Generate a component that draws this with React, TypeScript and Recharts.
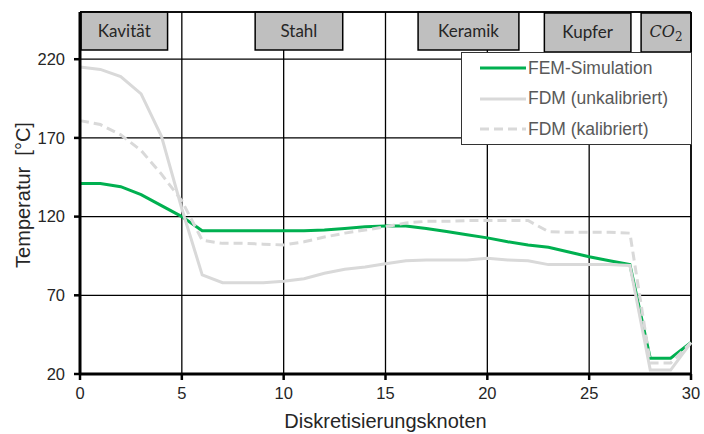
import {
  LineChart,
  Line,
  XAxis,
  YAxis,
  CartesianGrid,
  ReferenceLine,
  ReferenceArea,
  Legend
} from 'recharts';

// Knoten 0..30
const knoten = [0, 1, 2, 3, 4, 5, 6, 7, 8, 9, 10, 11, 12, 13, 14, 15, 16, 17, 18, 19, 20, 21, 22, 23, 24, 25, 26, 27, 28, 29, 30];

const femSimulation = [141, 141, 139, 134, 127, 120, 111, 111, 111, 111, 111, 111, 111.5, 112.5, 113.5, 114, 114, 112.5, 110.5, 108.5, 106.5, 104, 102, 100.5, 97.5, 94.5, 92, 89.5, 30, 30, 40];
const fdmUnkalibriert = [215, 213.5, 209, 198, 171, 125, 83, 78, 78, 78, 79, 80.5, 84, 86.5, 88, 90, 92, 92.5, 92.5, 92.5, 93.5, 92.5, 92, 89.5, 89.5, 89.5, 89.5, 89, 22.5, 22.5, 40];
const fdmKalibriert = [181, 178.5, 172, 162, 147, 130, 105, 103, 103, 102.5, 102, 104, 107, 109.5, 111.5, 113.5, 116, 117, 117, 117.5, 117.5, 117.5, 117.5, 110.5, 110, 110, 110, 109.5, 27, 27, 40];

const xTicks = [0, 5, 10, 15, 20, 25, 30];
const yTicks = [20, 70, 120, 170, 220];

// Materialbereiche oben im Diagramm
const materialNames = ['Kavität', 'Stahl', 'Keramik', 'Kupfer', 'CO2'];
const materialFrom = [0.05, 8.6, 16.6, 22.8, 27.55];
const materialTo = [4.3, 12.9, 21.55, 27.05, 30];
const materialTop = [250, 250, 250, 249.4, 249.4];
const materialBottom = [225.8, 225.8, 225.8, 224.6, 224.6];

const seriesNames = ['FEM-Simulation', 'FDM (unkalibriert)', 'FDM (kalibriert)'];
const seriesKeys = ['fem', 'unkal', 'kal'];
const seriesColors = ['#00B050', '#D9D9D9', '#D9D9D9'];
const seriesDash = [undefined, undefined, '9 5'];

const chartData = knoten.map((k, i) => ({
  knoten: k,
  fem: femSimulation[i],
  unkal: fdmUnkalibriert[i],
  kal: fdmKalibriert[i]
}));

const MaterialLabel = (props: any, name: string) => {
  const { x, y, width, height } = props.viewBox;
  const cx = x + width / 2;
  const cy = y + height / 2;
  if (name === 'CO2') {
    return (
      <text x={cx} y={cy + 5} textAnchor="middle" fill="#262626">
        <tspan fontFamily="DejaVu Serif" fontStyle="italic" fontSize={16}>CO</tspan>
        <tspan fontFamily="DejaVu Serif" fontSize={12} dy={4}>2</tspan>
      </text>
    );
  }
  return (
    <text x={cx} y={cy + 6} textAnchor="middle" fill="#262626" fontFamily="Lato" fontSize={17}>
      {name}
    </text>
  );
};

const LegendBox = () => (
  <div
    style={{
      width: 231,
      height: 93,
      background: '#fff',
      border: '1px solid #333',
      boxSizing: 'border-box'
    }}
  >
    {seriesNames.map((name, i) => (
      <div key={name} style={{ display: 'flex', alignItems: 'center', height: 30.5 }}>
        <svg width={64} height={6}>
          <line
            x1={18}
            x2={64}
            y1={3}
            y2={3}
            stroke={seriesColors[i]}
            strokeWidth={3}
            strokeDasharray={seriesDash[i]}
          />
        </svg>
        <span
          style={{
            marginLeft: 2,
            fontFamily: 'Liberation Sans',
            fontSize: 17.5,
            color: '#595959'
          }}
        >
          {name}
        </span>
      </div>
    ))}
  </div>
);

const YLabel = (props: any) => {
  const { x, y, height } = props.viewBox;
  const cx = x + 23;
  const cy = y + height / 2 + 2;
  return (
    <text
      x={cx}
      y={cy}
      transform={`rotate(-90, ${cx}, ${cy})`}
      textAnchor="middle"
      dominantBaseline="central"
      fill="#262626"
      fontFamily="Liberation Sans"
      fontSize={20}
      style={{ whiteSpace: 'pre' }}
    >
      {'Temperatur  [°C]'}
    </text>
  );
};

const XLabel = (props: any) => {
  const { x, y, width } = props.viewBox;
  return (
    <text
      x={x + width / 2}
      y={y + 54}
      textAnchor="middle"
      fill="#262626"
      fontFamily="Liberation Sans"
      fontSize={20}
    >
      Diskretisierungsknoten
    </text>
  );
};

export default function App() {
  return (
    <div style={{ position: 'absolute', left: 0, top: 0, background: '#fff' }}>
      <LineChart
        width={704}
        height={434}
        data={chartData}
        margin={{ top: 12, right: 13, left: 0, bottom: 0 }}
      >
        <CartesianGrid stroke="#000" strokeWidth={1.3} />
        <XAxis
          dataKey="knoten"
          type="number"
          domain={[0, 30]}
          ticks={xTicks}
          height={60}
          axisLine={{ stroke: '#000', strokeWidth: 3 }}
          tickLine={{ stroke: '#000', strokeWidth: 2.5 }}
          tickSize={6}
          tickMargin={7}
          tick={{ fill: '#262626', fontSize: 16.5, fontFamily: 'Liberation Sans' }}
          label={XLabel}
        />
        <YAxis
          type="number"
          domain={[20, 250]}
          ticks={yTicks}
          width={80}
          allowDataOverflow
          axisLine={{ stroke: '#000', strokeWidth: 3 }}
          tickLine={{ stroke: '#000', strokeWidth: 2.5 }}
          tickSize={6}
          tickMargin={9}
          tick={{ fill: '#262626', fontSize: 16.5, fontFamily: 'Liberation Sans' }}
          label={YLabel}
        />
        <ReferenceLine y={250} stroke="#000" strokeWidth={1.5} />
        <ReferenceLine x={30} stroke="#000" strokeWidth={1.5} />
        {materialNames.map((name, i) => (
          <ReferenceArea
            key={name}
            x1={materialFrom[i]}
            x2={materialTo[i]}
            y1={materialBottom[i]}
            y2={materialTop[i]}
            fill="#BFBFBF"
            fillOpacity={1}
            stroke="#000"
            strokeWidth={1.5}
            label={(p: any) => MaterialLabel(p, name)}
          />
        ))}
        {seriesKeys.map((key, i) => (
          <Line
            key={key}
            type="linear"
            dataKey={key}
            name={seriesNames[i]}
            stroke={seriesColors[i]}
            strokeWidth={3}
            strokeDasharray={seriesDash[i]}
            dot={false}
            activeDot={false}
            isAnimationActive={false}
          />
        ))}
        <Legend
          layout="vertical"
          align="center"
          verticalAlign="middle"
          content={LegendBox}
          wrapperStyle={{ left: 461, top: 52, width: 231, height: 93 }}
        />
      </LineChart>
    </div>
  );
}
